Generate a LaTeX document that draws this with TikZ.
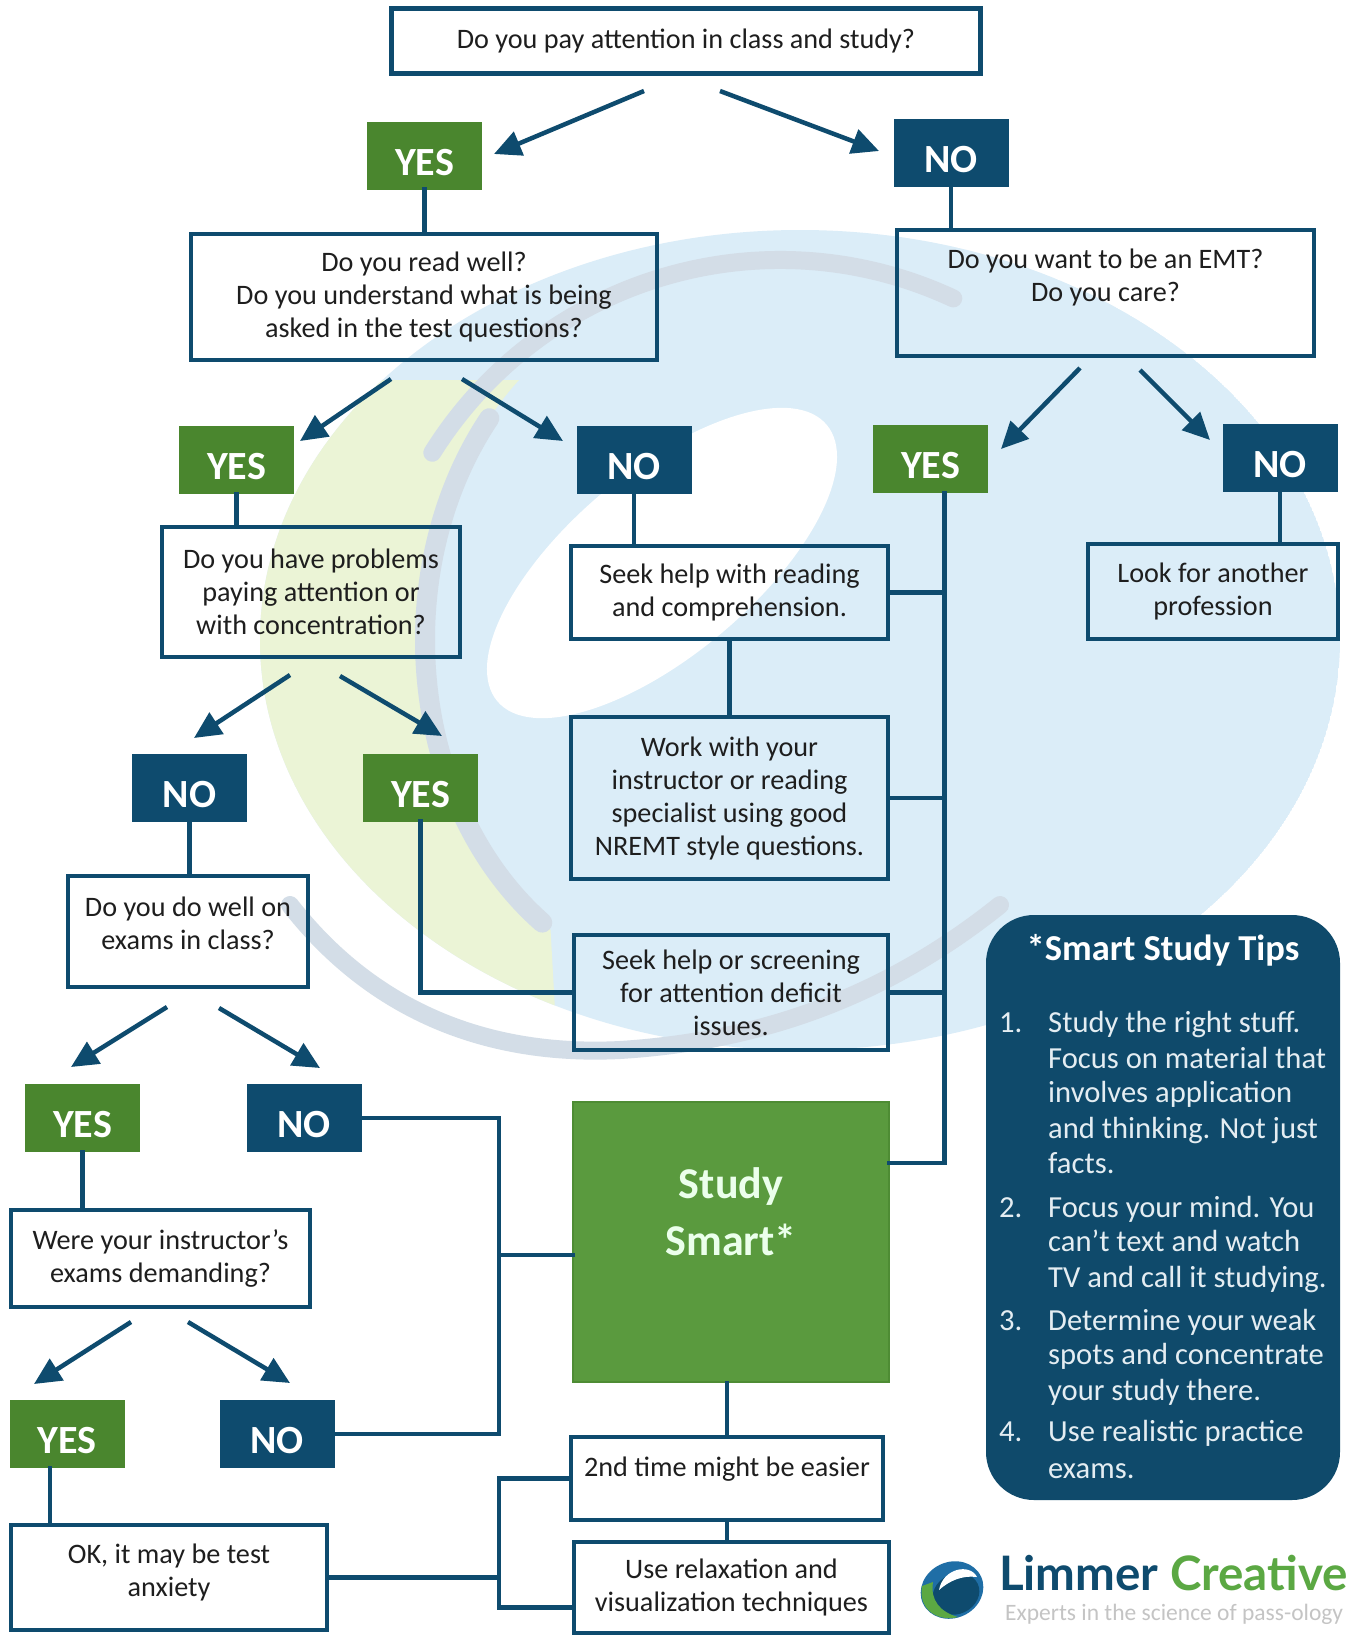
\documentclass[tikz,border=0pt]{standalone}
\usepackage{fontspec}
\setmainfont{Carlito}
\newfontfamily\lato{Lato}
\usetikzlibrary{arrows.meta,calc}

\definecolor{navy}{HTML}{0E4B6E}
\definecolor{yesgreen}{HTML}{4A862E}
\definecolor{smartgreen}{HTML}{5A9A3E}
\definecolor{smartedge}{HTML}{4E8C34}
\definecolor{tipblue}{HTML}{0F4A6B}
\definecolor{tiptext}{HTML}{E4EDF2}
\definecolor{ink}{HTML}{1E1E1E}
\definecolor{wmblue}{HTML}{DBEDF8}
\definecolor{wmgreen}{HTML}{EBF4D6}
\definecolor{wmgray}{HTML}{D3DDE7}
\definecolor{taggray}{HTML}{C4C4C4}
\definecolor{logoblue}{HTML}{1F6EA6}
\definecolor{logogreen}{HTML}{5BA843}

\tikzset{
  qbox/.style={draw=navy, line width=4.5pt, inner sep=0pt, align=center, text=ink,
    font=\fontsize{28.2}{33}\selectfont},
  txt/.style={inner sep=0pt, align=center, text=ink, font=\fontsize{28.2}{33}\selectfont},
  yesbox/.style={fill=yesgreen, text=white, inner sep=0pt, minimum width=115pt,
    minimum height=68pt, text height=39pt, text depth=0pt,
    font=\fontsize{40}{40}\selectfont\bfseries},
  nobox/.style={yesbox, fill=navy},
  link/.style={draw=navy, line width=4.5pt, line cap=rect},
  arr/.style={draw=navy, line width=4.5pt, -{Triangle[length=27pt,width=25pt]}},
  tipline/.style={inner sep=0pt, text=tiptext, anchor=base west,
    font=\fontsize{30.6}{35}\selectfont},
  swoosh/.style={draw=wmgray, line cap=round},
}

\begin{document}
\begin{tikzpicture}[x=1pt, y=-1pt]
\useasboundingbox (0,0) rectangle (1351,1636);
\fill[white] (0,0) rectangle (1351,1636);

% faded logo mark in the background
\begin{scope}
  \clip (800,640) ellipse [x radius=540, y radius=410];
  \fill[wmblue] (800,640) ellipse [x radius=540, y radius=410];
  \fill[wmgreen] (200,380) -- (520,380) -- (560,1100) -- (200,1100) -- cycle;
\end{scope}
\fill[wmblue] (700,640) ellipse [x radius=275, y radius=345];
\fill[white] (662,563) ellipse [x radius=215, y radius=92, rotate=40];
\draw[swoosh, line width=20pt] (700,640) ++(220:275 and 345)
  arc[start angle=220, end angle=125, x radius=275, y radius=345];
\draw[swoosh, line width=18pt] (780,670) ++(212:410)
  arc[start angle=212, end angle=295, radius=410];
\draw[swoosh, line width=18pt] (290,905) .. controls (380,1020) and (500,1056) .. (620,1050)
  .. controls (780,1040) and (900,985) .. (1000,905);

% question and answer boxes
\node[qbox, minimum width=589pt, minimum height=65pt] (q1) at (686,41)
  {Do you pay attention in class and study?};
\node[yesbox] (y1) at (424.5,155.5) {YES};
\node[nobox] (n1) at (951,152.5) {NO};

\node[qbox, minimum width=466pt, minimum height=126pt] (q2) at (424,297)
  {Do you read well?\\Do you understand what is being\\asked in the test questions?};
\node[qbox, minimum width=417pt, minimum height=126pt] (q3) at (1105.5,293) {};
\node[txt] (q3t) at ([yshift=-50pt]q3.north) {Do you want to be an EMT?\\Do you care?};

\node[yesbox] (y2) at (236.5,460) {YES};
\node[nobox] (n2) at (634,460) {NO};
\node[yesbox] (y3) at (930.5,459) {YES};
\node[nobox] (n3) at (1280,458) {NO};

\node[qbox, minimum width=298pt, minimum height=130pt] (q4) at (311,592)
  {Do you have problems\\paying attention or\\with concentration?};
\node[qbox, minimum width=317pt, minimum height=93pt] (a5) at (729.5,592.5)
  {Seek help with reading\\and comprehension.};
\node[qbox, minimum width=250pt, minimum height=95pt] (a6) at (1213,591.5)
  {Look for another\\profession};
\node[qbox, minimum width=317pt, minimum height=162pt] (a7) at (729.5,798)
  {Work with your\\instructor or reading\\specialist using good\\NREMT style questions.};
\node[qbox, minimum width=314pt, minimum height=115pt] (a8) at (731,992.5)
  {Seek help or screening\\for attention deficit\\issues.};

\node[nobox] (n4) at (189.5,787.5) {NO};
\node[yesbox] (y4) at (420.5,787.5) {YES};
\node[qbox, minimum width=240pt, minimum height=111pt] (q5) at (188,931.5) {};
\node[txt] (q5t) at (188,923) {Do you do well on\\exams in class?};

\node[yesbox] (y5) at (82.5,1118) {YES};
\node[nobox] (n5) at (304,1118) {NO};
\node[qbox, minimum width=299pt, minimum height=97pt] (q6) at (160.5,1258.5) {};
\node[txt] (q6t) at (160.5,1258) {Were your instructor’s\\exams demanding?};

\node[yesbox] (y6) at (67,1434) {YES};
\node[nobox] (n6) at (277,1434) {NO};
\node[qbox, minimum width=316pt, minimum height=105pt] (a11) at (169,1577.5) {};
\node[txt] (a11t) at (169,1572) {OK, it may be test\\anxiety};

\node[fill=smartgreen, draw=smartedge, line width=2pt, inner sep=0pt,
  minimum width=316pt, minimum height=280pt] (ss) at (731,1242) {};
\node[inner sep=0pt, align=center, text=white!92!green,
  font=\fontsize{44}{57}\selectfont\bfseries] (sst) at (731,1212) {Study\\Smart*};
\node[qbox, minimum width=312pt, minimum height=83pt] (a12) at (727,1478.5) {};
\node[txt] (a12t) at ([yshift=-34pt]a12.north) {2nd time might be easier};
\node[qbox, minimum width=315pt, minimum height=91pt] (a13) at (731.5,1587.5)
  {Use relaxation and\\visualization techniques};

% decision arrows
\coordinate (s1) at (644,91);   \coordinate (e1) at (494,154);
\coordinate (s2) at (720,91);   \coordinate (e2) at (879,151);
\coordinate (s3) at (391,379);  \coordinate (e3) at (300,441);
\coordinate (s4) at (462,379);  \coordinate (e4) at (563,441);
\coordinate (s5) at (1080,368); \coordinate (e5) at (1001,449);
\coordinate (s6) at (1140,370); \coordinate (e6) at (1210,440);
\coordinate (s7) at (290,675);  \coordinate (e7) at (194,738);
\coordinate (s8) at (340,676);  \coordinate (e8) at (442,736);
\coordinate (s9) at (167,1007); \coordinate (e9) at (71,1067);
\coordinate (s10) at (219,1008); \coordinate (e10) at (320,1068);
\coordinate (s11) at (131,1322); \coordinate (e11) at (34,1384);
\coordinate (s12) at (188,1322); \coordinate (e12) at (290,1383);
\foreach \k in {1,...,12} \draw[arr] (s\k) -- (e\k);

% straight links
\draw[link] (y1.south) -- (y1.south |- q2.north);
\draw[link] (n1.south) -- (n1.south |- q3.north);
\draw[link] (y2.south) -- (y2.south |- q4.north);
\draw[link] (n2.south) -- (n2.south |- a5.north);
\draw[link] (n3.south) -- (n3.south |- a6.north);
\draw[link] (n4.south) -- (n4.south |- q5.north);
\draw[link] (y5.south) -- (y5.south |- q6.north);
\coordinate (y6b) at ([xshift=-17pt]y6.south);
\draw[link] (y6b) -- (y6b |- a11.north);
\draw[link] (a5.south) -- (a7.north);
\draw[link] (y4.south) |- (a8.west);

% bus from the EMT "yes" into Study Smart
\coordinate (y3b) at ([xshift=14pt]y3.south);
\coordinate (ssR) at (889,1163);
\draw[link] (y3b) -- (y3b |- ssR) -- (ssR);
\draw[link] (a5.east) -- (a5.east -| y3b);
\draw[link] (a7.east) -- (a7.east -| y3b);
\draw[link] (a8.east) -- (a8.east -| y3b);

% bus from the two "no" answers into Study Smart
\coordinate (bl1) at (499,1118);
\coordinate (bl2) at (499,1434);
\coordinate (ssL) at (573,1255);
\draw[link] (n5.east) -- (bl1) -- (bl2) -- (n6.east);
\draw[link] (ssL) -- (ssL -| bl1);

% lower chain
\draw[link] (a12.north) -- (a12.north |- ss.south);
\draw[link] (a12.south) -- (a12.south |- a13.north);
\coordinate (bb) at (499,1478.5);
\coordinate (a13w) at ([yshift=-20pt]a13.west);
\draw[link] (a12.west) -- (bb) -- (bb |- a13w) -- (a13w);
\draw[link] (a11.east) -- (a11.east -| bb);

% tips panel
\node[fill=tipblue, rounded corners=48pt, inner sep=0pt,
  minimum width=354pt, minimum height=585pt] (tips) at (1163,1207.5) {};
\node[inner sep=0pt, text=white, font=\fontsize{36.5}{36.5}\selectfont\bfseries]
  (tipt) at (1163,950) {*Smart Study Tips};
\node[tipline] (tn1) at (999,1032) {1.};
\node[tipline] (tn2) at (999,1217) {2.};
\node[tipline] (tn3) at (999,1330) {3.};
\node[tipline] (tn4) at (999,1441) {4.};
\foreach \yy/\tx [count=\k] in {
  1032/Study the right stuff.,
  1068/Focus on material that,
  1102/involves application,
  1138/and thinking. Not just,
  1173/facts.,
  1217/Focus your mind. You,
  1251/can’t text and watch,
  1287/TV and call it studying.,
  1330/Determine your weak,
  1364/spots and concentrate,
  1400/your study there.,
  1441/Use realistic practice,
  1478/exams.}
  \node[tipline] (tl\k) at (1048,\yy) {\tx};

% company mark
\begin{scope}[shift={(952,1590)}]
  \fill[logoblue] (0,0) ellipse [x radius=32, y radius=28, rotate=25];
  \fill[navy] (4,4) ellipse [x radius=24, y radius=20, rotate=25];
  \fill[logogreen] (-30,-4) .. controls (-34,20) and (-14,32) .. (6,27)
    .. controls (-12,22) and (-22,10) .. (-19,-8) -- cycle;
  \fill[white] (-13,0) .. controls (-9,-22) and (18,-27) .. (25,-13)
    .. controls (10,-15) and (-3,-9) .. (-13,0) -- cycle;
\end{scope}
\node[inner sep=0pt, anchor=base west, font=\lato\bfseries\fontsize{47.5}{47.5}\selectfont]
  (lname) at (999,1590) {\textcolor{navy}{Limmer} \textcolor{logogreen}{Creative}};
\node[inner sep=0pt, anchor=base west, text=taggray, font=\fontsize{23.5}{23.5}\selectfont]
  (ltag) at (1005,1620) {Experts in the science of pass-ology};
\end{tikzpicture}
\end{document}
